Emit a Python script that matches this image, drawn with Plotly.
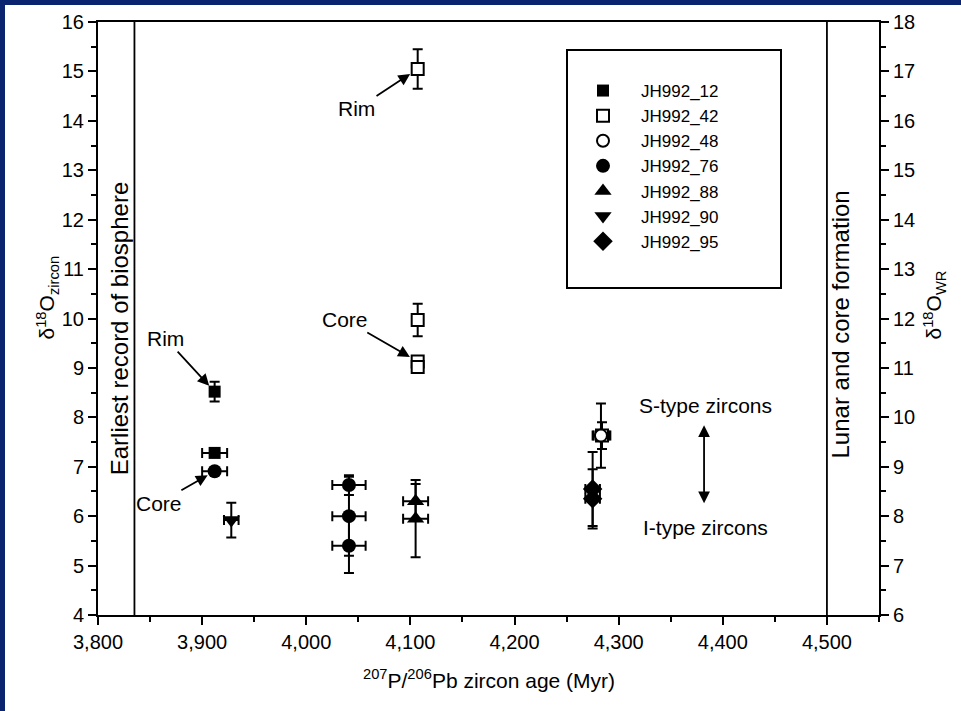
import plotly.graph_objects as go

# ---- data: 207Pb/206Pb age (Myr) vs delta-18O of zircon (per mil) ----
jh12_age = [3912, 3912]
jh12_d18o = [8.52, 7.28]
jh12_age_err = [0, 12]
jh12_d18o_err = [0.2, 0.05]

jh42_age = [4107, 4107, 4107, 4107, 4284]
jh42_d18o = [15.05, 9.97, 9.13, 9.02, 7.63]
jh42_age_err = [0, 0, 0, 0, 8]
jh42_d18o_err = [0.4, 0.33, 0.05, 0.05, 0.27]

jh48_age = [4283]
jh48_d18o = [7.63]
jh48_age_err = [8]
jh48_d18o_err = [0.65]

jh76_age = [3912, 4041, 4041, 4041]
jh76_d18o = [6.91, 6.63, 6.0, 5.4]
jh76_age_err = [12, 16, 16, 16]
jh76_d18o_err = [0.05, 0.2, 0.8, 0.55]

jh88_age = [4105, 4105]
jh88_d18o = [6.3, 5.95]
jh88_age_err = [12, 12]
jh88_d18o_err = [0.35, 0.78]

jh90_age = [3928]
jh90_d18o = [5.92]
jh90_age_err = [7]
jh90_d18o_err = [0.35]

jh95_age = [4275, 4275]
jh95_d18o = [6.55, 6.35]
jh95_age_err = [7, 7]
jh95_d18o_err = [0.75, 0.6]

x_range = [3800, 4550]
y_range = [4, 16]
y2_range = [6, 18]
biosphere_age = 3835
lunar_age = 4500

FONT = "Liberation Sans, Arial, Helvetica, sans-serif"
NAVY = "#0b2470"

# figure geometry (pixels)
W, H = 961, 711
ML, MR, MT, MB = 98, 82, 22, 96
PW, PH = W - ML - MR, H - MT - MB


def px_x(p):
    return (p - ML) / PW


def px_y(p):
    return (H - MB - p) / PH


series = [
    ("JH992_12", jh12_age, jh12_d18o, jh12_age_err, jh12_d18o_err, "square", 12),
    ("JH992_42", jh42_age, jh42_d18o, jh42_age_err, jh42_d18o_err, "square-open", 12),
    ("JH992_48", jh48_age, jh48_d18o, jh48_age_err, jh48_d18o_err, "circle-open", 12),
    ("JH992_76", jh76_age, jh76_d18o, jh76_age_err, jh76_d18o_err, "circle", 14),
    ("JH992_88", jh88_age, jh88_d18o, jh88_age_err, jh88_d18o_err, "triangle-up", 15),
    ("JH992_90", jh90_age, jh90_d18o, jh90_age_err, jh90_d18o_err, "triangle-down", 15),
    ("JH992_95", jh95_age, jh95_d18o, jh95_age_err, jh95_d18o_err, "diamond", 15),
]

fig = go.Figure()

for name, ax_, ay_, ex, ey, sym, size in series:
    open_marker = sym.endswith("-open")
    fig.add_trace(go.Scatter(
        x=ax_, y=ay_, name=name, mode="markers",
        marker=dict(
            symbol=sym.replace("-open", "") if open_marker else sym,
            size=size,
            color="white" if open_marker else "black",
            line=dict(color="black", width=2 if open_marker else 0),
        ),
        error_x=dict(type="data", array=ex, visible=True, color="black",
                     thickness=2, width=5),
        error_y=dict(type="data", array=ey, visible=True, color="black",
                     thickness=2, width=5),
    ))

# right-hand whole-rock scale shares the plot area
fig.add_trace(go.Scatter(x=[], y=[], yaxis="y2", showlegend=False, hoverinfo="skip"))

shapes = [
    # white page on the navy backdrop
    dict(type="rect", xref="paper", yref="paper", layer="below",
         x0=px_x(5), x1=px_x(W + 5), y0=px_y(H + 5), y1=px_y(5),
         fillcolor="white", line=dict(width=0)),
    # time markers
    dict(type="line", xref="x", yref="paper", x0=biosphere_age, x1=biosphere_age,
         y0=0, y1=1, line=dict(color="black", width=1.8)),
    dict(type="line", xref="x", yref="paper", x0=lunar_age, x1=lunar_age,
         y0=0, y1=1, line=dict(color="black", width=1.8)),
    # legend frame
    dict(type="rect", xref="paper", yref="paper",
         x0=px_x(567), x1=px_x(781), y0=px_y(288), y1=px_y(50),
         line=dict(color="black", width=2)),
]

tfont = dict(family=FONT, size=21, color="black")
arrow = dict(showarrow=True, arrowhead=2, arrowsize=1.3, arrowwidth=1.8,
             arrowcolor="black")
annotations = [
    dict(x=jh12_age[0], y=jh12_d18o[0], text="Rim", ax=-49, ay=-53,
         standoff=8, font=tfont, **arrow),
    dict(x=jh76_age[0], y=jh76_d18o[0], text="Core", ax=-56, ay=32,
         standoff=8, font=tfont, **arrow),
    dict(x=jh42_age[0], y=jh42_d18o[0], text="Rim", ax=-61, ay=40,
         standoff=9, font=tfont, **arrow),
    dict(x=jh42_age[2], y=jh42_d18o[2], text="Core", ax=-73, ay=-42,
         standoff=9, font=tfont, **arrow),
    # S-type / I-type double arrow
    dict(x=4382, y=7.84, ax=4382, ay=6.23, axref="x", ayref="y", text="",
         startarrowhead=2, arrowside="end+start", startarrowsize=1.3, **arrow),
    dict(x=4383, y=8.23, text="S-type zircons", showarrow=False, font=tfont),
    dict(x=4383, y=5.78, text="I-type zircons", showarrow=False, font=tfont),
    dict(x=3821, y=9.8, text="Earliest record of biosphere", textangle=-90,
         showarrow=False, font=dict(family=FONT, size=24, color="black")),
    dict(x=px_x(856), xref="paper", y=px_y(325), yref="paper",
         text="Lunar and core formation", textangle=-90,
         showarrow=False, font=dict(family=FONT, size=24, color="black")),
    # axis titles
    dict(x=px_x(30), xref="paper", y=px_y(298), yref="paper",
         text="δ<sup>18</sup>O<sub>zircon</sub>", textangle=-90, showarrow=False,
         font=dict(family=FONT, size=21, color="black")),
    dict(x=px_x(950), xref="paper", y=px_y(305), yref="paper",
         text="δ<sup>18</sup>O<sub>WR</sub>", textangle=-90, showarrow=False,
         font=dict(family=FONT, size=21, color="black")),
    dict(x=0.5, xref="paper", y=px_y(694), yref="paper",
         text="<sup>207</sup>P/<sup>206</sup>Pb zircon age (Myr)", showarrow=False,
         font=dict(family=FONT, size=21, color="black")),
]

base_axis = dict(
    showgrid=False, zeroline=False, showline=True, linecolor="black", linewidth=2,
    ticks="outside", tickcolor="black", tickwidth=1.8, ticklen=8,
    tickfont=dict(family=FONT, size=20, color="black"),
)


def minor(step):
    return dict(dtick=step, ticks="outside", ticklen=5, tickwidth=1.5, tickcolor="black")


fig.update_layout(
    width=W, height=H,
    margin=dict(l=ML, r=MR, t=MT, b=MB, pad=0),
    paper_bgcolor=NAVY, plot_bgcolor="white",
    font=dict(family=FONT, color="black"),
    xaxis=dict(range=x_range, dtick=100, tickformat=",d", mirror=True,
               minor=minor(50), **base_axis),
    yaxis=dict(range=y_range, dtick=1, minor=minor(0.5), **base_axis),
    yaxis2=dict(range=y2_range, dtick=1, overlaying="y", side="right",
                minor=minor(0.5), **base_axis),
    showlegend=True,
    legend=dict(x=px_x(565), y=px_y(73), xanchor="left", yanchor="top",
                bgcolor="rgba(0,0,0,0)", borderwidth=0, itemwidth=66,
                font=dict(family=FONT, size=17, color="black")),
    shapes=shapes,
    annotations=annotations,
)

fig.write_html("out.html")
